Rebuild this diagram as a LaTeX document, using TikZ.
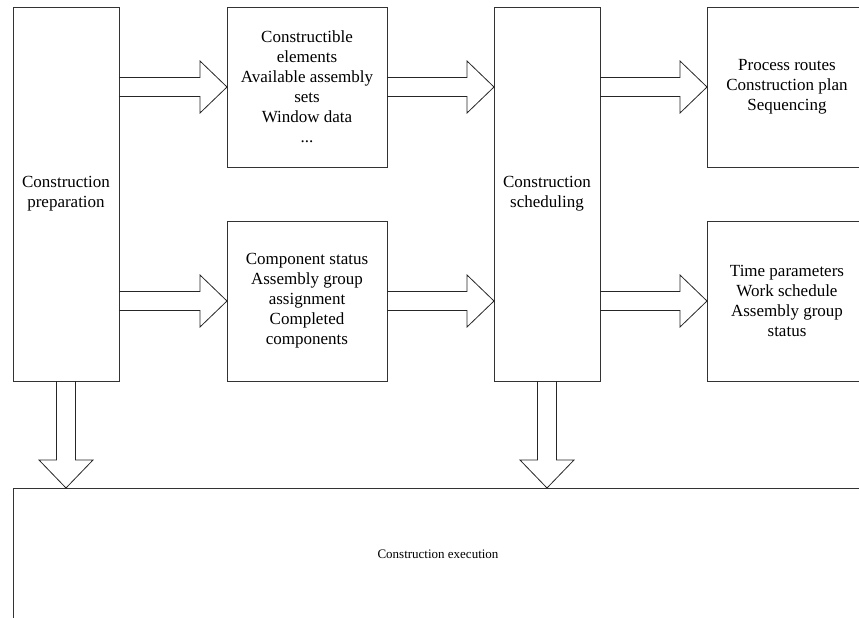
\documentclass[tikz,border=0pt]{standalone}
\usepackage{fontspec}
\setmainfont{Liberation Serif}
\usetikzlibrary{calc}
\tikzset{
  box/.style={draw=black!80, line width=0.8pt, inner sep=0pt, outer sep=0pt, align=center,
    font=\fontsize{17}{20}\selectfont},
  hollow/.style={draw=black!85, line width=0.8pt, line join=miter}
}
\newcommand{\harrow}[2]{%
  \draw[hollow] let \p1=(#1), \p2=(#2) in
    (\x1,\y2+9.5pt) -- (\x2-27pt,\y2+9.5pt) -- (\x2-27pt,\y2+26pt) -- (\x2,\y2)
    -- (\x2-27pt,\y2-26pt) -- (\x2-27pt,\y2-9.5pt) -- (\x1,\y2-9.5pt);}
\newcommand{\varrow}[2]{%
  \draw[hollow] let \p1=(#1), \p2=(#2) in
    (\x2-9.5pt,\y1) -- (\x2-9.5pt,\y2+28pt) -- (\x2-27pt,\y2+28pt) -- (\x2,\y2)
    -- (\x2+27pt,\y2+28pt) -- (\x2+9.5pt,\y2+28pt) -- (\x2+9.5pt,\y1);}
\begin{document}
\begin{tikzpicture}[x=1pt,y=-1pt]
\useasboundingbox (0,0) rectangle (859,618);
\clip (0,0) rectangle (859,618);
\node[box, minimum width=106pt, minimum height=374pt] (prep) at (66,194) {Construction\\preparation};
\node[box, minimum width=160pt, minimum height=160pt] (elem) at (307,87) {Constructible\\elements\\Available assembly\\sets\\Window data\\...};
\node[box, minimum width=160pt, minimum height=160pt] (comp) at (307,301) {Component status\\Assembly group\\assignment\\Completed\\components};
\node[box, minimum width=106pt, minimum height=374pt] (sched) at (547,194) {Construction\\scheduling};
\node[box, minimum width=160pt, minimum height=160pt] (route) at (787,87) {Process routes\\Construction plan\\Sequencing};
\node[box, minimum width=160pt, minimum height=160pt] (time) at (787,301) {Time parameters\\Work schedule\\Assembly group\\status};
\node[box, minimum width=850pt, minimum height=132pt, font=\fontsize{13}{16}\selectfont] (exec) at (438,554) {Construction execution};
\coordinate (t1) at (prep.south |- exec.north);
\coordinate (t2) at (sched.south |- exec.north);
\harrow{prep.east}{elem.west}
\harrow{prep.east}{comp.west}
\harrow{elem.east}{sched.west |- elem.west}
\harrow{comp.east}{sched.west |- comp.west}
\harrow{sched.east}{route.west}
\harrow{sched.east}{time.west}
\varrow{prep.south}{t1}
\varrow{sched.south}{t2}
\end{tikzpicture}
\end{document}
